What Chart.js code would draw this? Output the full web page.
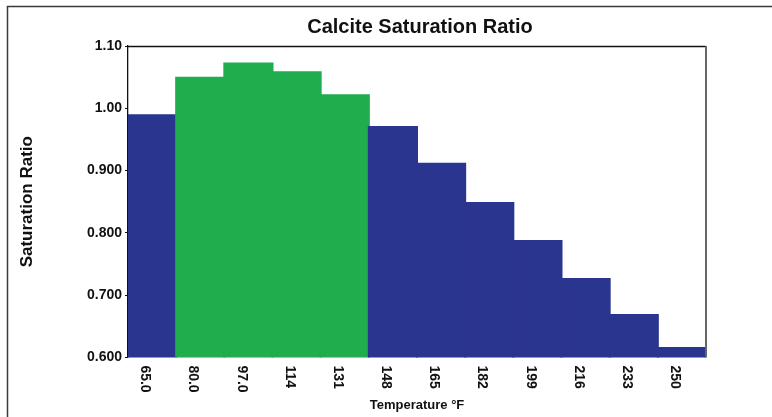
<!DOCTYPE html>
<html>
<head>
<meta charset="utf-8">
<script src="https://cdn.jsdelivr.net/npm/chart.js@4/dist/chart.umd.min.js"></script>
<style>
  html, body { margin: 0; padding: 0; background: #fff; }
  #wrap { width: 772px; height: 417px; position: relative; }
</style>
</head>
<body>
<div id="wrap"><canvas id="c" width="772" height="417"></canvas></div>
<script>
// ---- data ----
const chartTitle = 'Calcite Saturation Ratio';
const xTitle = 'Temperature °F';
const yTitle = 'Saturation Ratio';
const categories = ['65.0', '80.0', '97.0', '114', '131', '148', '165', '182', '199', '216', '233', '250'];
const saturationRatio = [0.989, 1.049, 1.072, 1.058, 1.021, 0.970, 0.911, 0.848, 0.787, 0.726, 0.668, 0.615];
const inWindow = [false, true, true, true, true, false, false, false, false, false, false, false];
const yTickValues = [0.6, 0.7, 0.8, 0.9, 1.0, 1.1];
const yTickLabels = ['0.600', '0.700', '0.800', '0.900', '1.00', '1.10'];

const BLUE = '#2a358f';
const GREEN = '#1fad4d';
const FONT = "'Liberation Sans', Arial, Helvetica, sans-serif";

const decor = {
  id: 'decor',
  beforeDraw(chart) {
    const ctx = chart.ctx;
    ctx.save();
    ctx.fillStyle = '#fff';
    ctx.fillRect(0, 0, chart.width, chart.height);
    // outer frame (top and left)
    ctx.strokeStyle = '#3a3a3a';
    ctx.lineWidth = 1.5;
    ctx.beginPath();
    ctx.moveTo(7.5, chart.height);
    ctx.lineTo(7.5, 6.5);
    ctx.lineTo(chart.width, 6.5);
    ctx.stroke();
    ctx.restore();
  },
  afterDraw(chart) {
    const ctx = chart.ctx;
    const a = chart.chartArea;
    const xs = chart.scales.x;
    ctx.save();
    // plot box: top and right edges
    ctx.strokeStyle = '#111';
    ctx.lineWidth = 1.3;
    ctx.beginPath();
    ctx.moveTo(a.left, a.top + 0.5);
    ctx.lineTo(a.right, a.top + 0.5);
    ctx.stroke();
    ctx.strokeStyle = '#666';
    ctx.lineWidth = 2;
    ctx.beginPath();
    ctx.moveTo(a.right, a.top);
    ctx.lineTo(a.right, a.bottom);
    ctx.stroke();
    // main title
    ctx.fillStyle = '#111';
    ctx.font = 'bold 20px ' + FONT;
    ctx.textAlign = 'center';
    ctx.textBaseline = 'alphabetic';
    ctx.fillText(chartTitle, (a.left + a.right) / 2 + 3, 33);
    // rotated x tick labels (reading top to bottom)
    ctx.font = 'bold 14px ' + FONT;
    ctx.textAlign = 'left';
    ctx.textBaseline = 'middle';
    categories.forEach((lab, i) => {
      const x = xs.getPixelForValue(i) - 7;
      const y = a.bottom + 8;
      ctx.save();
      ctx.translate(x, y);
      ctx.rotate(Math.PI / 2);
      ctx.fillText(lab, 0, 0);
      ctx.restore();
    });
    ctx.restore();
  }
};

new Chart(document.getElementById('c'), {
  type: 'bar',
  data: {
    labels: categories,
    datasets: [{
      data: saturationRatio,
      backgroundColor: inWindow.map(w => w ? GREEN : BLUE),
      borderWidth: 0,
      inflateAmount: 1,
      categoryPercentage: 1.0,
      barPercentage: 1.0
    }]
  },
  options: {
    responsive: false,
    animation: false,
    devicePixelRatio: 1,
    layout: { padding: { left: 7, top: 46, right: 66, bottom: 0 } },
    plugins: {
      legend: { display: false },
      tooltip: { enabled: false },
      title: { display: false }
    },
    scales: {
      x: {
        grid: { display: false, drawTicks: false },
        border: { display: false },
        ticks: { display: false },
        title: {
          display: true,
          text: xTitle,
          color: '#111',
          font: { family: FONT, size: 13, weight: 'bold' },
          padding: { top: 40, bottom: 4 }
        }
      },
      y: {
        min: 0.6,
        max: 1.1,
        afterBuildTicks: s => { s.ticks = yTickValues.map(v => ({ value: v })); },
        afterFit: s => { s.width = 121; },
        grid: { drawOnChartArea: false, drawTicks: true, tickLength: 3, color: '#111' },
        border: { display: true, color: '#111', width: 1.3 },
        ticks: {
          color: '#111',
          padding: 3,
          font: { family: FONT, size: 14, weight: 'bold' },
          callback: (v, i) => yTickLabels[i]
        },
        title: {
          display: true,
          text: yTitle,
          color: '#111',
          font: { family: FONT, size: 17, weight: 'bold' },
          padding: { top: 10, bottom: 0 }
        }
      }
    }
  },
  plugins: [decor]
});
</script>
</body>
</html>
